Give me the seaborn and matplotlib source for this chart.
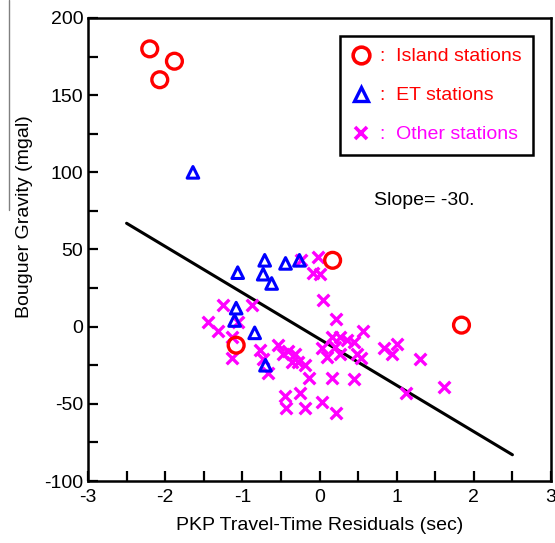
import matplotlib
matplotlib.use("Agg")
import matplotlib.pyplot as plt
from matplotlib.lines import Line2D
import seaborn as sns
import pandas as pd

# ---------------- data ----------------
island_x = [-2.20, -1.88, -2.07, 0.17, -1.08, 1.84]
island_y = [180, 172, 160, 43, -12, 1]

et_x = [-1.64, -1.06, -0.71, -0.73, -0.62, -0.44, -0.26, -1.08, -1.10, -0.84, -0.70]
et_y = [100, 35, 43, 34, 28, 41, 43, 12, 4, -4, -25]

other_x = [-1.45, -1.32, -1.25, -1.13, -1.14, -1.06, -0.88, -0.77, -0.73, -0.67,
           -0.54, -0.47, -0.41, -0.32, -0.36, -0.28, -0.19, -0.13, -0.25, -0.45,
           0.03, -0.19, -0.43, 0.22, -0.24, -0.02, -0.09, 0.00, 0.05, 0.22,
           0.56, 0.16, 0.26, 0.36, 0.45, 0.20, 0.03, 0.10, 0.26, 0.48,
           0.54, 0.16, 0.45, 0.84, 1.00, 0.94, 1.30, 1.12, 1.61]
other_y = [3, -3, 14, -7, -20, 3, 14, -15, -21, -30,
           -12, -18, -16, -18, -23, -23, -25, -33, -43, -45,
           -49, -53, -53, -56, 43, 45, 35, 34, 17, 5,
           -3, -6.5, -6.5, -8.5, -10, -13, -14, -19.5, -18, -18,
           -20, -33, -34, -14, -11, -18, -21, -43, -39]

fit_x = [-2.5, 2.5]
fit_y = [67, -83]

slope_text = "Slope= -30."
legend_labels = [":  Island stations", ":  ET stations", ":  Other stations"]
x_label = "PKP Travel-Time Residuals (sec)"
y_label = "Bouguer Gravity (mgal)"

# ---------------- style ----------------
sns.set_theme(style="white")
plt.rcParams["font.family"] = ["Liberation Sans", "DejaVu Sans"]
plt.rcParams["axes.unicode_minus"] = False

fig = plt.figure(figsize=(5.55, 5.43), dpi=100)
ax = fig.add_axes([88 / 555, 1 - 481 / 543, (551 - 88) / 555, (481 - 18) / 543])

island = pd.DataFrame({"x": island_x, "y": island_y})
et = pd.DataFrame({"x": et_x, "y": et_y})
other = pd.DataFrame({"x": other_x, "y": other_y})

sns.lineplot(x=fit_x, y=fit_y, color="black", linewidth=2.2, ax=ax, zorder=2)
sns.scatterplot(data=other, x="x", y="y", marker="x", s=70, color="#FF00FF",
                linewidth=2.4, ax=ax, zorder=3)
sns.scatterplot(data=et, x="x", y="y", marker="^", s=70, facecolor="none",
                edgecolor="#0000FF", linewidth=2.2, ax=ax, zorder=4)
sns.scatterplot(data=island, x="x", y="y", marker="o", s=130, facecolor="none",
                edgecolor="#FF0000", linewidth=2.4, ax=ax, zorder=5)

ax.set_xlim(-3, 3)
ax.set_ylim(-100, 200)
ax.set_xticks([-3, -2, -1, 0, 1, 2, 3])
ax.set_xticks([-2.5, -1.5, -0.5, 0.5, 1.5, 2.5], minor=True)
ax.set_yticks([-100, -50, 0, 50, 100, 150, 200])
ax.set_yticks([-75, -25, 25, 75, 125, 175], minor=True)
ax.tick_params(axis="both", which="both", direction="in", length=7, width=1.6,
               color="black", labelsize=14, labelcolor="black",
               top=False, right=False, bottom=True, left=True)
ax.tick_params(axis="x", which="major", pad=6)
for sp in ax.spines.values():
    sp.set_linewidth(1.8)
    sp.set_color("black")

ax.set_xlabel(x_label, fontsize=14, color="black", labelpad=8)
ax.set_ylabel(y_label, fontsize=14, color="black")
ax.yaxis.set_label_coords(-0.119, 0.57)

ax.text(0.71, 82, slope_text, fontsize=14, color="black", va="center", ha="left")

handles = [
    Line2D([], [], ls="none", marker="o", mfc="none", mec="#FF0000", mew=2.6, ms=12),
    Line2D([], [], ls="none", marker="^", mfc="none", mec="#0000FF", mew=2.4, ms=9.5),
    Line2D([], [], ls="none", marker="x", color="#FF00FF", mew=2.6, ms=9),
]
leg = ax.legend(handles, legend_labels, loc="upper right",
                bbox_to_anchor=(0.961, 0.961), borderaxespad=0, frameon=True,
                fancybox=False, edgecolor="black", facecolor="white", framealpha=1,
                fontsize=14, labelspacing=1.1, handlelength=1.0,
                handletextpad=0.45, borderpad=0.6)
leg.get_frame().set_linewidth(1.8)
for t, c in zip(leg.get_texts(), ["#FF0000", "#FF0000", "#FF00FF"]):
    t.set_color(c)

fig.add_artist(Line2D([9 / 555, 9 / 555], [1.0, 1 - 210 / 543],
                      transform=fig.transFigure, color="gray", linewidth=1))

fig.savefig("out.png", dpi=100, facecolor="white")
